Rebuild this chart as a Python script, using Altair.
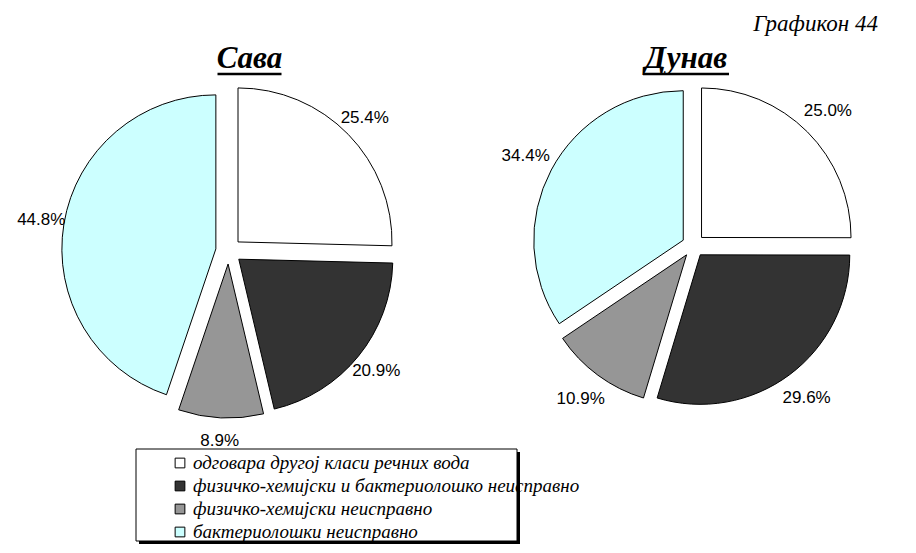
import altair as alt
import pandas as pd

# ---------------- data ----------------
rivers = ["Сава", "Дунав"]
categories = [
    "одговара другој класи речних вода",
    "физичко-хемијски и бактериолошко неисправно",
    "физичко-хемијски неисправно",
    "бактериолошки неисправно",
]
sava_values = [25.4, 20.9, 8.9, 44.8]
dunav_values = [25.0, 29.6, 10.9, 34.4]
figure_label = "Графикон 44"

# ---------------- style / layout ----------------
colors = ["#ffffff", "#333333", "#969696", "#ccffff"]
W, H = 900, 537
# per-pie layout: centre, radius, explode offset, title centre / width
layout = {
    "Сава": dict(cx=220.7, cy=243.0, r=154.0, d=13.0, tx=241.5, tw=64.0),
    "Дунав": dict(cx=685.4, cy=237.6, r=149.5, d=11.5, tx=678.0, tw=86.0),
}
LABEL_R = 190
TITLE_Y = 60

values_by_river = {"Сава": sava_values, "Дунав": dunav_values}
rows = []
for river in rivers:
    for i, (cat, v) in enumerate(zip(categories, values_by_river[river])):
        rows.append(dict(river=river, cat=cat, idx=i, value=v, **layout[river]))
df = pd.DataFrame(rows)

base = (
    alt.Chart(df)
    .transform_joinaggregate(total="sum(value)", groupby=["river"])
    .transform_window(cum="sum(value)", sort=[alt.SortField("idx")],
                      groupby=["river"], frame=[None, 0])
    .transform_calculate(
        t1="2*PI*datum.cum/datum.total",
        t0="2*PI*(datum.cum-datum.value)/datum.total",
    )
    .transform_calculate(mid="(datum.t0+datum.t1)/2")
    .transform_calculate(
        ex="datum.cx + datum.d*sin(datum.mid)",
        ey="datum.cy - datum.d*cos(datum.mid)",
        lx=f"datum.cx + {LABEL_R}*sin(datum.mid)",
        ly=f"datum.cy - {LABEL_R}*cos(datum.mid)",
        label="format(datum.value, '.1f') + '%'",
    )
)

fill_scale = alt.Scale(domain=categories, range=colors)

arcs = base.mark_arc(stroke="black", strokeWidth=1).encode(
    theta=alt.Theta("t0:Q", scale=None, stack=None),
    theta2="t1:Q",
    x=alt.X("ex:Q", scale=None, axis=None),
    y=alt.Y("ey:Q", scale=None, axis=None),
    radius=alt.Radius("r:Q", scale=None),
    fill=alt.Fill("cat:N", scale=fill_scale, legend=None),
)

pct_labels = base.mark_text(
    font="Liberation Sans", fontSize=17, color="black",
    align="center", baseline="middle",
).encode(
    x=alt.X("lx:Q", scale=None, axis=None),
    y=alt.Y("ly:Q", scale=None, axis=None),
    text="label:N",
)

# titles
tdf = pd.DataFrame([dict(river=r, tx=layout[r]["tx"], tw=layout[r]["tw"]) for r in rivers])
tbase = alt.Chart(tdf).transform_calculate(
    ty=str(TITLE_Y), x1="datum.tx - datum.tw/2", x2="datum.tx + datum.tw/2",
    uy=str(TITLE_Y + 6),
)
titles = tbase.mark_text(
    font="Liberation Serif", fontStyle="italic", fontWeight="bold", fontSize=31,
    align="center", baseline="alphabetic", color="black",
).encode(
    x=alt.X("tx:Q", scale=None, axis=None),
    y=alt.Y("ty:Q", scale=None, axis=None),
    text="river:N",
)
underlines = tbase.mark_rule(color="black", strokeWidth=2.5).encode(
    x=alt.X("x1:Q", scale=None, axis=None),
    x2="x2:Q",
    y=alt.Y("uy:Q", scale=None, axis=None),
)

fig_label = alt.Chart(pd.DataFrame({"t": [figure_label]})).mark_text(
    font="Liberation Serif", fontStyle="italic", fontSize=23,
    align="right", baseline="alphabetic", color="black",
).encode(x=alt.value(870), y=alt.value(23), text="t:N")

# legend box
LX0, LX1, LY0, LY1 = 128, 509, 441, 533
shadow = alt.Chart(pd.DataFrame({"a": [0]})).mark_rect(fill="black").encode(
    x=alt.value(LX0 + 3), x2=alt.value(LX1 + 3),
    y=alt.value(LY0 + 3), y2=alt.value(LY1 + 3),
)
box = alt.Chart(pd.DataFrame({"a": [0]})).mark_rect(
    fill="white", stroke="black", strokeWidth=1
).encode(
    x=alt.value(LX0), x2=alt.value(LX1),
    y=alt.value(LY0), y2=alt.value(LY1),
)
ldf = pd.DataFrame({"cat": categories, "idx": list(range(len(categories)))})
lbase = alt.Chart(ldf).transform_calculate(ly=f"{LY0 + 14} + 23*datum.idx")
lsym = lbase.mark_square(size=95, stroke="black", strokeWidth=1, opacity=1).encode(
    x=alt.value(172),
    y=alt.Y("ly:Q", scale=None, axis=None),
    fill=alt.Fill("cat:N", scale=fill_scale, legend=None),
)
ltext = lbase.mark_text(
    font="Liberation Serif", fontStyle="italic", fontSize=19,
    align="left", baseline="middle", color="black",
).encode(
    x=alt.value(185),
    y=alt.Y("ly:Q", scale=None, axis=None),
    text="cat:N",
)

chart = alt.layer(
    arcs, titles, underlines, fig_label, shadow, box, lsym, ltext, pct_labels
).properties(
    width=W, height=H, padding=0, autosize="none"
).configure_view(stroke=None)

chart.save("out.html", embed_options={"renderer": "svg", "actions": False})
